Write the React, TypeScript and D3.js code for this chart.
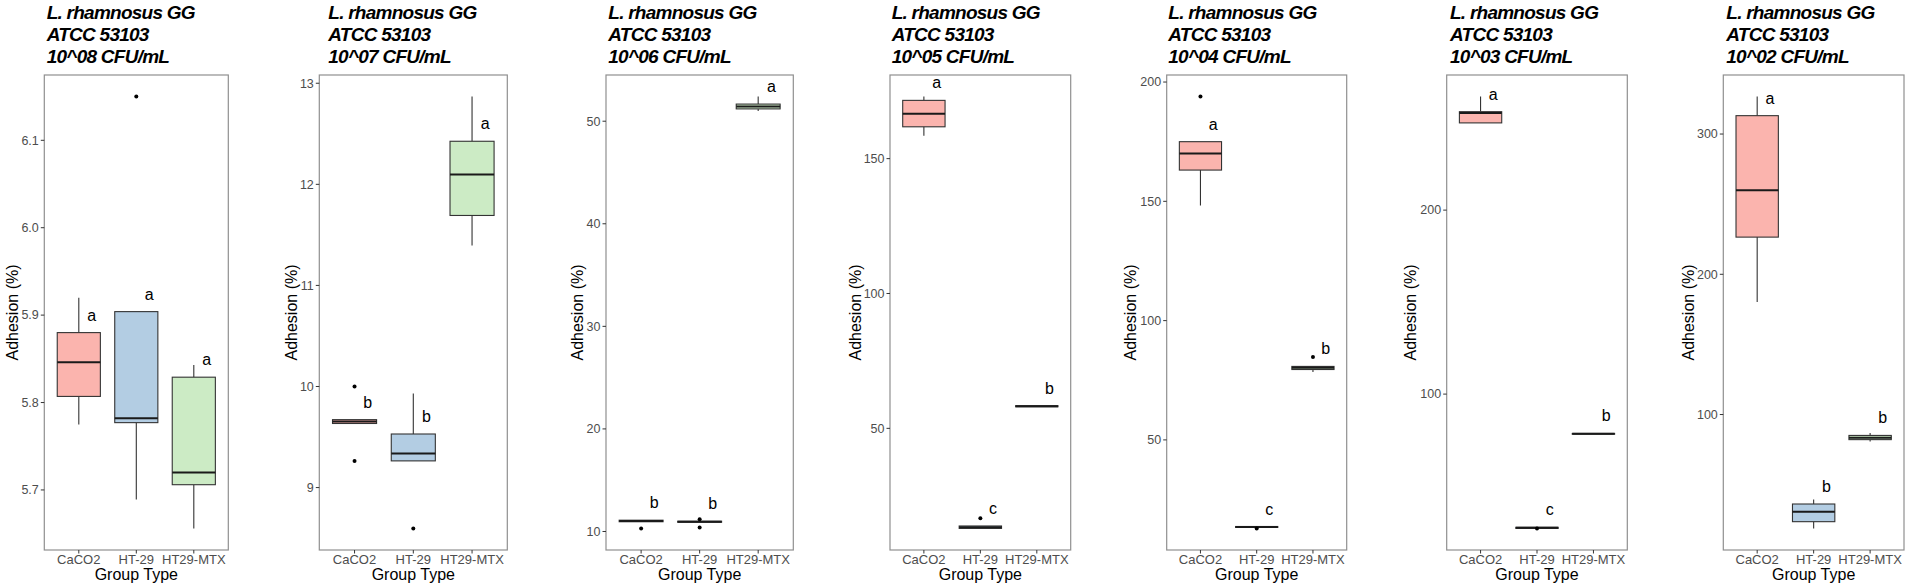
import React from 'react';
import * as d3 from 'd3';

// ---------- data ----------
const groups = ['CaCO2', 'HT-29', 'HT29-MTX'];
const groupFills = ['#FBB4AE', '#B3CDE3', '#CCEBC5'];
const strainLine = 'L. rhamnosus GG';
const atccLine = 'ATCC 53103';
const concentrations = ['10^08', '10^07', '10^06', '10^05', '10^04', '10^03', '10^02'];

const whiskerLow = [
  [5.775, 5.689, 5.656],
  [9.634, 9.264, 11.396],
  [10.95, 10.9, 51.0],
  [158.5, 12.9, 58.0],
  [148.3, 13.3, 78.5],
  [247.4, 27.0, 78.2],
  [180.2, 18.8, 80.8],
];
const q1Values = [
  [5.807, 5.777, 5.706],
  [9.634, 9.264, 11.692],
  [10.95, 10.9, 51.2],
  [161.8, 12.9, 58.0],
  [163.1, 13.3, 79.5],
  [247.4, 27.0, 78.2],
  [226.5, 23.6, 82.1],
];
const medianValues = [
  [5.846, 5.782, 5.72],
  [9.653, 9.338, 12.097],
  [11.03, 10.95, 51.43],
  [166.6, 13.35, 58.2],
  [170.0, 13.5, 80.2],
  [252.8, 27.3, 78.4],
  [259.9, 30.6, 83.5],
];
const q3Values = [
  [5.88, 5.904, 5.829],
  [9.672, 9.53, 12.426],
  [11.1, 11.0, 51.67],
  [171.6, 13.8, 58.4],
  [175.0, 13.7, 80.8],
  [253.5, 27.6, 78.6],
  [313.1, 36.2, 85.1],
];
const whiskerHigh = [
  [5.92, 5.904, 5.843],
  [9.672, 9.931, 12.868],
  [11.1, 11.0, 52.4],
  [173.0, 13.8, 58.4],
  [175.0, 13.7, 80.8],
  [261.7, 27.6, 78.6],
  [326.7, 39.4, 86.9],
];
const outliers: number[][][] = [
  [[], [6.15], []],
  [[10.0, 9.264], [8.596], []],
  [[10.3], [11.2, 10.4], []],
  [[], [16.7], []],
  [[193.9], [12.9], [84.7]],
  [[], [27.0], []],
  [[], [], []],
];
const letters = [
  ['a', 'a', 'a'],
  ['b', 'b', 'a'],
  ['b', 'b', 'a'],
  ['a', 'c', 'b'],
  ['a', 'c', 'b'],
  ['a', 'c', 'b'],
  ['a', 'b', 'b'],
];
const yTicks = [
  [5.7, 5.8, 5.9, 6.0, 6.1],
  [9, 10, 11, 12, 13],
  [10, 20, 30, 40, 50],
  [50, 100, 150],
  [50, 100, 150, 200],
  [100, 200],
  [100, 200, 300],
];
const yTitle = 'Adhesion (%)';
const xTitle = 'Group Type';

// ---------- layout ----------
const W = 1908;
const H = 588;
const panelLeft = [44.3, 319.3, 606, 890, 1166.7, 1446.7, 1723.3];
const panelRight = [228.3, 507.3, 793.3, 1070.7, 1346.7, 1627.3, 1904];
const titleX = [46.7, 328.3, 608.3, 891.7, 1168.3, 1450, 1726.3];
const yTitleX = [12, 291.7, 577.3, 855, 1130, 1410, 1688];
const panelTop = 75;
const panelBottom = 550;
const FONT = '"Liberation Sans", Arial, Helvetica, sans-serif';

function Panel({ p }: { p: number }) {
  const left = panelLeft[p];
  const right = panelRight[p];
  const all = [
    ...whiskerLow[p],
    ...whiskerHigh[p],
    ...outliers[p].flat(),
  ];
  const [mn, mx] = d3.extent(all) as [number, number];
  const pad = (mx - mn) * 0.05;
  const y = d3.scaleLinear().domain([mn - pad, mx + pad]).range([panelBottom, panelTop]);
  const x = d3.scalePoint<string>().domain(groups).range([left, right]).padding(0.6);
  const step = x.step();
  const bw = step * 0.75;
  const ticks = yTicks[p];
  const decimals = ticks.some((t) => !Number.isInteger(t));
  const fmt = decimals ? d3.format('.1f') : d3.format('d');
  const stroke = '#333333';

  return (
    <g>
      {/* title */}
      <g fontFamily={FONT} fontWeight="bold" fontStyle="italic" fontSize={19} letterSpacing={-0.75} fill="#000">
        <text x={titleX[p]} y={18.5}>{strainLine}</text>
        <text x={titleX[p]} y={40.7}>{atccLine}</text>
        <text x={titleX[p]} y={62.9}>{`${concentrations[p]} CFU/mL`}</text>
      </g>

      {/* boxes */}
      {groups.map((g, i) => {
        const cx = x(g) as number;
        return (
          <g key={g}>
            <line x1={cx} x2={cx} y1={y(q3Values[p][i])} y2={y(whiskerHigh[p][i])} stroke={stroke} strokeWidth={1.1} />
            <line x1={cx} x2={cx} y1={y(q1Values[p][i])} y2={y(whiskerLow[p][i])} stroke={stroke} strokeWidth={1.1} />
            <rect
              x={cx - bw / 2}
              width={bw}
              y={y(q3Values[p][i])}
              height={Math.max(0.5, y(q1Values[p][i]) - y(q3Values[p][i]))}
              fill={groupFills[i]}
              stroke={stroke}
              strokeWidth={1.1}
            />
            <line x1={cx - bw / 2} x2={cx + bw / 2} y1={y(medianValues[p][i])} y2={y(medianValues[p][i])} stroke="#1a1a1a" strokeWidth={2} />
            {outliers[p][i].map((v, k) => (
              <circle key={k} cx={cx} cy={y(v)} r={2} fill="#000" />
            ))}
            <text
              x={cx + step * 0.225}
              y={y(q3Values[p][i]) - 12}
              textAnchor="middle"
              fontFamily={FONT}
              fontSize={16}
              fill="#000"
            >
              {letters[p][i]}
            </text>
          </g>
        );
      })}

      {/* border */}
      <rect x={left} y={panelTop} width={right - left} height={panelBottom - panelTop} fill="none" stroke="#8f8f8f" strokeWidth={1.2} />

      {/* y axis */}
      {ticks.map((t) => (
        <g key={t}>
          <line x1={left - 3.5} x2={left} y1={y(t)} y2={y(t)} stroke={stroke} strokeWidth={1} />
          <text x={left - 5.5} y={y(t)} dy="0.35em" textAnchor="end" fontFamily={FONT} fontSize={12.5} fill="#4d4d4d">
            {fmt(t)}
          </text>
        </g>
      ))}
      <text
        transform={`translate(${yTitleX[p]},${(panelTop + panelBottom) / 2}) rotate(-90)`}
        textAnchor="middle"
        dy="0.35em"
        fontFamily={FONT}
        fontSize={16}
        fill="#000"
      >
        {yTitle}
      </text>

      {/* x axis */}
      {groups.map((g) => (
        <g key={g}>
          <line x1={x(g)} x2={x(g)} y1={panelBottom} y2={panelBottom + 3.5} stroke={stroke} strokeWidth={1} />
          <text x={x(g)} y={564} textAnchor="middle" fontFamily={FONT} fontSize={13} fill="#4d4d4d">
            {g}
          </text>
        </g>
      ))}
      <text x={(left + right) / 2} y={580} textAnchor="middle" fontFamily={FONT} fontSize={16} fill="#000">
        {xTitle}
      </text>
    </g>
  );
}

export default function App() {
  return (
    <svg
      width={W}
      height={H}
      viewBox={`0 0 ${W} ${H}`}
      style={{ position: 'absolute', left: 0, top: 0, background: '#fff' }}
    >
      <rect width={W} height={H} fill="#fff" />
      {concentrations.map((_, p) => (
        <Panel key={p} p={p} />
      ))}
    </svg>
  );
}
